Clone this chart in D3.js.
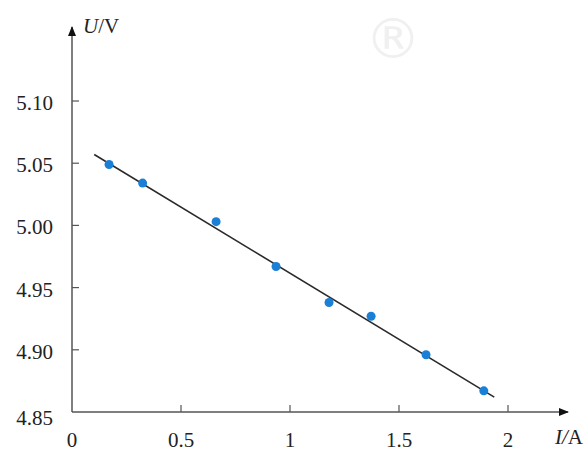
<!DOCTYPE html>
<html>
<head>
<meta charset="utf-8">
<script src="https://cdn.jsdelivr.net/npm/d3@7"></script>
<style>
    body { margin: 0; background: #fff; }
</style>
</head>
<body>
<div id="chart"></div>
<script>
// measured points (I in A, U in V)
var currents = [0.170, 0.324, 0.661, 0.936, 1.179, 1.372, 1.624, 1.889]
var voltages = [5.049, 5.034, 5.003, 4.967, 4.938, 4.927, 4.896, 4.867]

// fitted straight line, two ends
var fitI = [0.102, 1.937]
var fitU = [5.057, 4.862]

var xTicks = [0, 0.5, 1, 1.5, 2]
var xTickLabels = ["0", "0.5", "1", "1.5", "2"]
var yTicks = [4.85, 4.90, 4.95, 5.00, 5.05, 5.10]
var yTickLabels = ["4.85", "4.90", "4.95", "5.00", "5.05", "5.10"]

//---------------------------------------------------
// init parameters
//---------------------------------------------------
var width = 587,
    height = 452
var x0 = 72, y0 = 412
var axisColor = "#555"
var dotColor = "#1a7fd6"
var serif = "'Liberation Serif', 'Times New Roman', 'DejaVu Serif', serif"
var fontSize = 21
var tickLen = 7

var x = d3.scaleLinear().domain([0, 2]).range([x0, 508])
var y = d3.scaleLinear().domain([4.85, 5.10]).range([y0, 101])

var svg = d3.select("#chart")
    .append("svg")
    .attr("width", width)
    .attr("height", height)

// faint watermark
svg.append("text")
    .attr("x", 393).attr("y", 58)
    .attr("text-anchor", "middle")
    .style("font-family", "'DejaVu Sans', sans-serif")
    .style("font-size", "56px")
    .style("fill", "#f0f0f0")
    .text("®")

var defs = svg.append("defs")
defs.append("marker")
    .attr("id", "arrow")
    .attr("viewBox", "0 0 10 8")
    .attr("refX", 9).attr("refY", 4)
    .attr("markerWidth", 10).attr("markerHeight", 8)
    .attr("markerUnits", "userSpaceOnUse")
    .attr("orient", "auto")
    .append("path")
    .attr("d", "M0,0 L10,4 L0,8 Z")
    .style("fill", "#111")

//------------------------------------------
// axes
//------------------------------------------
svg.append("line")
    .attr("x1", x0).attr("y1", y0)
    .attr("x2", 568).attr("y2", y0)
    .style("stroke", axisColor).style("stroke-width", 1.5)
    .attr("marker-end", "url(#arrow)")

svg.append("line")
    .attr("x1", x0).attr("y1", y0)
    .attr("x2", x0).attr("y2", 27)
    .style("stroke", axisColor).style("stroke-width", 1.5)
    .attr("marker-end", "url(#arrow)")

// x ticks (skip the origin)
svg.selectAll(".xtick")
    .data(xTicks.slice(1))
    .enter()
    .append("line")
    .attr("class", "xtick")
    .attr("x1", (d) => x(d)).attr("x2", (d) => x(d))
    .attr("y1", y0).attr("y2", y0 - tickLen)
    .style("stroke", axisColor).style("stroke-width", 1.2)

svg.selectAll(".xlab")
    .data(xTicks)
    .enter()
    .append("text")
    .attr("class", "xlab")
    .attr("x", (d) => x(d))
    .attr("y", 447)
    .attr("text-anchor", "middle")
    .style("font-family", serif)
    .style("font-size", fontSize + "px")
    .style("fill", "#222")
    .text((d, i) => xTickLabels[i])

// y ticks
svg.selectAll(".ytick")
    .data(yTicks.slice(1))
    .enter()
    .append("line")
    .attr("class", "ytick")
    .attr("x1", x0).attr("x2", x0 + tickLen)
    .attr("y1", (d) => y(d)).attr("y2", (d) => y(d))
    .style("stroke", axisColor).style("stroke-width", 1.2)

svg.selectAll(".ylab")
    .data(yTicks)
    .enter()
    .append("text")
    .attr("class", "ylab")
    .attr("x", 53)
    .attr("y", (d, i) => y(d) + (i == 0 ? 13 : 9))
    .attr("text-anchor", "end")
    .style("font-family", serif)
    .style("font-size", fontSize + "px")
    .style("fill", "#222")
    .text((d, i) => yTickLabels[i])

// axis titles
var yTitle = svg.append("text")
    .attr("x", 83).attr("y", 33)
    .style("font-family", serif)
    .style("font-size", fontSize + "px")
    .style("fill", "#222")
yTitle.append("tspan").style("font-style", "italic").text("U")
yTitle.append("tspan").text("/V")

var xTitle = svg.append("text")
    .attr("x", 555).attr("y", 444)
    .style("font-family", serif)
    .style("font-size", fontSize + "px")
    .style("fill", "#222")
xTitle.append("tspan").style("font-style", "italic").text("I/")
xTitle.append("tspan").text("A")

//------------------------------------------
// fitted line and points
//------------------------------------------
svg.append("line")
    .attr("x1", x(fitI[0])).attr("y1", y(fitU[0]))
    .attr("x2", x(fitI[1])).attr("y2", y(fitU[1]))
    .style("stroke", "#2a2a2a").style("stroke-width", 1.6)

svg.selectAll(".dot")
    .data(currents)
    .enter()
    .append("circle")
    .attr("class", "dot")
    .attr("cx", (d) => x(d))
    .attr("cy", (d, i) => y(voltages[i]))
    .attr("r", 4.5)
    .style("fill", dotColor)
</script>
</body>
</html>
